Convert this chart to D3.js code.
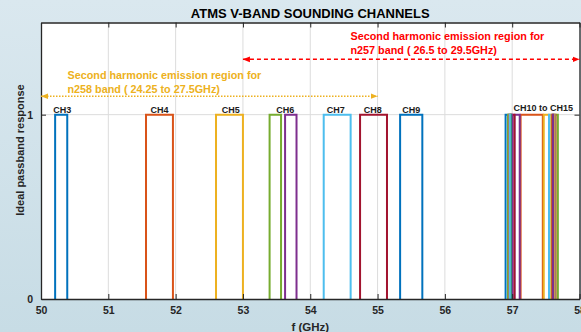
<!DOCTYPE html>
<html>
<head>
<meta charset="utf-8">
<script src="https://cdn.jsdelivr.net/npm/d3@7"></script>
<style>
  html, body { margin: 0; padding: 0; }
  body { width: 581px; height: 332px; overflow: hidden; }
  text { font-family: "Liberation Sans", Arial, sans-serif; font-weight: bold; }
</style>
</head>
<body>
<svg id="chart" width="581" height="332"></svg>
<script>
// ---------- data ----------
// passbands in plot order (GHz)
const bandLow  = [50.21, 51.56, 52.60, 53.626, 53.396, 54.20, 54.74, 55.335,
                  57.125, 57.4687, 57.034,
                  57.6425, 57.5465, 56.998, 56.902,
                  57.6265, 57.5825, 56.982, 56.938,
                  57.6185, 57.5985, 56.974, 56.954,
                  57.6155, 57.6065, 56.971, 56.962];
const bandHigh = [50.39, 51.96, 53.00, 53.796, 53.566, 54.60, 55.14, 55.665,
                  57.455, 57.5467, 57.112,
                  57.6785, 57.5825, 57.034, 56.938,
                  57.6425, 57.5985, 56.998, 56.954,
                  57.6265, 57.6065, 56.982, 56.962,
                  57.6185, 57.6095, 56.974, 56.965];
const bandResponse = 1;

const channelLabels = ["CH3", "CH4", "CH5", "CH6", "CH7", "CH8", "CH9", "CH10 to CH15"];
const channelLabelFreq = [50.315, 51.76, 52.82, 53.63, 54.38, 54.93, 55.50, 57.46];

const xTicks = [50, 51, 52, 53, 54, 55, 56, 57, 58];
const yTicks = [0, 1];
const xDomain = [50, 58];
const yDomain = [0, 1.5];

const n257Range = [53.0, 58.0];   // second harmonic of 26.5-29.5 GHz
const n257Level = 1.3;
const n257Text = ["Second harmonic emission region for", "n257 band ( 26.5 to 29.5GHz)"];
const n258Range = [50.0, 55.0];   // second harmonic of 24.25-27.5 GHz
const n258Level = 1.1;
const n258Text = ["Second harmonic emission region for", "n258 band ( 24.25 to 27.5GHz)"];

const titleText = "ATMS V-BAND SOUNDING CHANNELS";
const xLabelText = "f (GHz)";
const yLabelText = "Ideal passband response";

// ---------- styles ----------
const palette = ["#0072BD", "#D95319", "#EDB120", "#7E2F8E", "#77AC30", "#4DBEEE", "#A2142F"];
const axisColor = "#262626";

// ---------- layout ----------
const svg = d3.select("#chart");
const margin = { left: 41, right: 1.5, top: 22.5, bottom: 33 };
const W = 581, H = 332;
const x = d3.scaleLinear().domain(xDomain).range([margin.left, W - margin.right]);
const y = d3.scaleLinear().domain(yDomain).range([H - margin.bottom, margin.top]);

// background
const defs = svg.append("defs");
const grad = defs.append("linearGradient").attr("id", "bg").attr("x1", 0).attr("y1", 0).attr("x2", 0).attr("y2", 1);
grad.append("stop").attr("offset", "0%").attr("stop-color", "#DAE8EF");
grad.append("stop").attr("offset", "100%").attr("stop-color", "#C7DCE5");
svg.append("rect").attr("width", W).attr("height", H).attr("fill", "url(#bg)");

// plot area
svg.append("rect")
  .attr("x", x(xDomain[0])).attr("y", y(yDomain[1]))
  .attr("width", x(xDomain[1]) - x(xDomain[0]))
  .attr("height", y(yDomain[0]) - y(yDomain[1]))
  .attr("fill", "#ffffff");

// grid
const grid = svg.append("g");
grid.selectAll("line.vx").data(xTicks.slice(1, -1)).join("line")
  .attr("x1", d => x(d)).attr("x2", d => x(d))
  .attr("y1", y(yDomain[0])).attr("y2", y(yDomain[1]))
  .attr("stroke", "#DCDCDC").attr("stroke-width", 1);
grid.selectAll("line.hy").data(yTicks.filter(d => d > yDomain[0])).join("line")
  .attr("x1", x(xDomain[0])).attr("x2", x(xDomain[1]))
  .attr("y1", d => y(d)).attr("y2", d => y(d))
  .attr("stroke", "#DCDCDC").attr("stroke-width", 1);

// passbands
const bands = bandLow.map((lo, i) => ({ lo, hi: bandHigh[i], color: palette[i % palette.length] }));
const line = d3.line().x(d => x(d[0])).y(d => y(d[1]));
svg.append("g").selectAll("path").data(bands).join("path")
  .attr("d", b => line([[b.lo, 0], [b.lo, bandResponse], [b.hi, bandResponse], [b.hi, 0]]))
  .attr("fill", "none")
  .attr("stroke", b => b.color)
  .attr("stroke-width", 2)
  .attr("stroke-linejoin", "miter");

// axes (MATLAB-like inward ticks, full box)
const tickLen = 5;
const axB = d3.axisBottom(x).tickValues(xTicks).tickSizeInner(-tickLen).tickSizeOuter(0).tickPadding(8).tickFormat(d3.format("d"));
const axT = d3.axisTop(x).tickValues(xTicks).tickSizeInner(-tickLen).tickSizeOuter(0).tickFormat("");
const axL = d3.axisLeft(y).tickValues(yTicks).tickSizeInner(-tickLen).tickSizeOuter(0).tickPadding(8).tickFormat(d3.format("d"));
const axR = d3.axisRight(y).tickValues(yTicks).tickSizeInner(-tickLen).tickSizeOuter(0).tickFormat("");

function styleAxis(g) {
  g.selectAll("path.domain").attr("stroke", axisColor).attr("stroke-width", 1.3);
  g.selectAll(".tick line").attr("stroke", axisColor).attr("stroke-width", 1);
  g.selectAll(".tick text").attr("fill", axisColor)
    .style("font-family", '"Liberation Sans", Arial, sans-serif')
    .style("font-weight", "bold").style("font-size", "10.5px");
}
svg.append("g").attr("transform", `translate(0,${y(yDomain[0])})`).call(axB).call(styleAxis);
svg.append("g").attr("transform", `translate(0,${y(yDomain[1])})`).call(axT).call(styleAxis);
svg.append("g").attr("transform", `translate(${x(xDomain[0])},0)`).call(axL).call(styleAxis);
svg.append("g").attr("transform", `translate(${x(xDomain[1])},0)`).call(axR).call(styleAxis);

// channel labels
svg.append("g").selectAll("text").data(channelLabels).join("text")
  .attr("x", (d, i) => x(channelLabelFreq[i]))
  .attr("y", (d, i) => y(bandResponse) - (i === channelLabels.length - 1 ? 3.5 : 1.5))
  .attr("text-anchor", "middle")
  .attr("fill", "#1a1a1a")
  .style("font-size", "9px")
  .text(d => d);

// arrow markers
function marker(id, color) {
  defs.append("marker").attr("id", id)
    .attr("viewBox", "0 0 10 10").attr("refX", 10).attr("refY", 5)
    .attr("markerWidth", 7).attr("markerHeight", 7)
    .attr("markerUnits", "userSpaceOnUse")
    .attr("orient", "auto-start-reverse")
    .append("path").attr("d", "M0,1 L10,5 L0,9 Z").attr("fill", color);
}
marker("arrRed", "#FF0000");
marker("arrOrange", "#EDB120");

// n257 annotation (red dashed)
svg.append("line")
  .attr("x1", x(n257Range[0])).attr("x2", x(n257Range[1]))
  .attr("y1", y(n257Level)).attr("y2", y(n257Level))
  .attr("stroke", "#FF0000").attr("stroke-width", 1.5)
  .attr("stroke-dasharray", "4,3")
  .attr("marker-start", "url(#arrRed)").attr("marker-end", "url(#arrRed)");
svg.append("g").selectAll("text").data(n257Text).join("text")
  .attr("x", 350.5).attr("y", (d, i) => 40 + i * 13.8)
  .attr("fill", "#FF0000").style("font-size", "10.8px")
  .text(d => d);

// n258 annotation (orange dotted)
svg.append("line")
  .attr("x1", x(n258Range[0])).attr("x2", x(n258Range[1]))
  .attr("y1", y(n258Level)).attr("y2", y(n258Level))
  .attr("stroke", "#EDB120").attr("stroke-width", 1.5)
  .attr("stroke-dasharray", "1.5,1.5")
  .attr("marker-start", "url(#arrOrange)").attr("marker-end", "url(#arrOrange)");
svg.append("g").selectAll("text").data(n258Text).join("text")
  .attr("x", 67.5).attr("y", (d, i) => 79 + i * 14)
  .attr("fill", "#EDB120").style("font-size", "10.8px")
  .text(d => d);

// title and labels
const cx = (x(xDomain[0]) + x(xDomain[1])) / 2;
svg.append("text").attr("x", cx).attr("y", 18).attr("text-anchor", "middle")
  .attr("fill", "#000").style("font-size", "13px").text(titleText);
svg.append("text").attr("x", cx).attr("y", 331).attr("text-anchor", "middle")
  .attr("fill", axisColor).style("font-size", "11.5px").text(xLabelText);
svg.append("text").attr("transform", "translate(24,150) rotate(-90)").attr("text-anchor", "middle")
  .attr("fill", axisColor).style("font-size", "11px").text(yLabelText);
</script>
</body>
</html>
